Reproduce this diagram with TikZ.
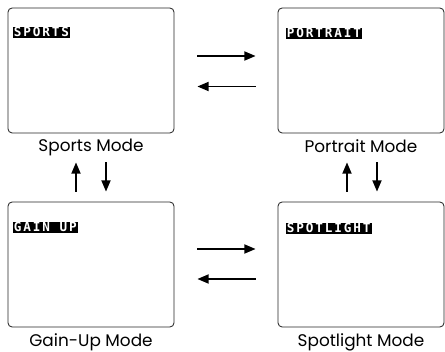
\documentclass[tikz,border=0pt]{standalone}
\usepackage{fontspec}
\setmainfont{Poppins}
\newfontfamily\tagfont[LetterSpace=15]{DejaVu Sans Mono}
\usetikzlibrary{arrows.meta}
\begin{document}
\begin{tikzpicture}[x=0.025cm,y=-0.025cm,
  screen/.style={draw=black!85,line width=0.6pt,rounded corners=3pt,minimum width=4.15cm,minimum height=3.125cm},
  tag/.style={fill=black,text=white,font=\tagfont\bfseries\fontsize{9}{9}\selectfont,inner sep=0.7pt,text height=6.4pt,text depth=0pt,anchor=north west},
  mode/.style={font=\fontsize{12}{12}\selectfont,below,inner sep=0pt},
  modearrow/.style={-{Triangle[length=8pt,width=6.5pt]},line width=1pt}]
\useasboundingbox (0,0) rectangle (445,352);
\node[screen] (sports) at (91,70.5) {};
\node[screen] (portrait) at (361,70.5) {};
\node[screen] (gainup) at (91,264.5) {};
\node[screen] (spotlight) at (361,264.5) {};
\node[tag] (sportstag) at ([shift={(5,19)}]sports.north west) {SPORTS};
\node[tag] (portraittag) at ([shift={(8,20)}]portrait.north west) {PORTRAIT};
\node[tag] (gainuptag) at ([shift={(5,20)}]gainup.north west) {GAIN UP};
\node[tag] (spotlighttag) at ([shift={(8,21)}]spotlight.north west) {SPOTLIGHT};
\node[mode] (sportsmode) at ([yshift=-4pt]sports.south) {Sports Mode};
\node[mode] (portraitmode) at ([yshift=-4pt]portrait.south) {Portrait Mode};
\node[mode] (gainupmode) at ([yshift=-4pt]gainup.south) {Gain-Up Mode};
\node[mode] (spotlightmode) at ([yshift=-4pt]spotlight.south) {Spotlight Mode};
\draw[modearrow] ([shift={(23,-14.5)}]sports.east) -- ([shift={(-22,-14.5)}]portrait.west);
\draw[modearrow] ([shift={(-22,16)}]portrait.west) -- ([shift={(23,16)}]sports.east);
\draw[modearrow] ([shift={(23,-15.5)}]gainup.east) -- ([shift={(-22,-15.5)}]spotlight.west);
\draw[modearrow] ([shift={(-22,14.5)}]spotlight.west) -- ([shift={(23,14.5)}]gainup.east);
\draw[modearrow] ([shift={(-15,-10)}]gainup.north) -- ([shift={(-15,29)}]sports.south);
\draw[modearrow] ([shift={(15,29)}]sports.south) -- ([shift={(15,-10)}]gainup.north);
\draw[modearrow] ([shift={(-14,-10)}]spotlight.north) -- ([shift={(-14,29)}]portrait.south);
\draw[modearrow] ([shift={(16,29)}]portrait.south) -- ([shift={(16,-10)}]spotlight.north);
\end{tikzpicture}
\end{document}
